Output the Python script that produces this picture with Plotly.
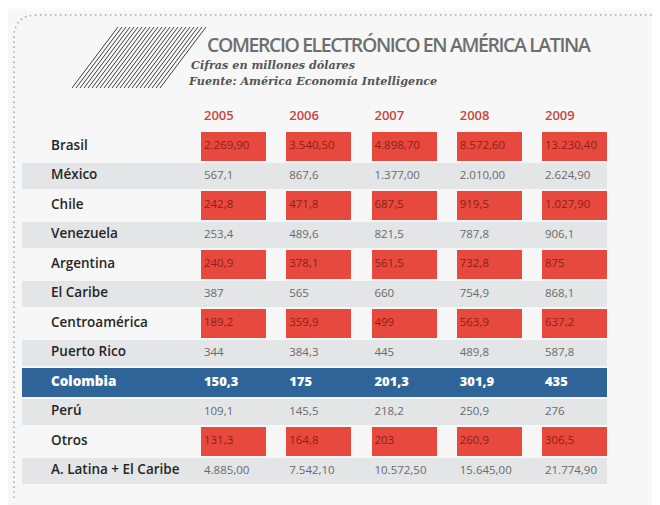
import plotly.graph_objects as go

# ---------------- data ----------------
rows = ["Brasil", "México", "Chile", "Venezuela", "Argentina", "El Caribe",
        "Centroamérica", "Puerto Rico", "Colombia", "Perú", "Otros",
        "A. Latina + El Caribe"]
years = ["2005", "2006", "2007", "2008", "2009"]

v2005 = ["2.269,90", "567,1", "242,8", "253,4", "240,9", "387", "189,2", "344",
         "150,3", "109,1", "131,3", "4.885,00"]
v2006 = ["3.540,50", "867,6", "471,8", "489,6", "378,1", "565", "359,9", "384,3",
         "175", "145,5", "164,8", "7.542,10"]
v2007 = ["4.898,70", "1.377,00", "687,5", "821,5", "561,5", "660", "499", "445",
         "201,3", "218,2", "203", "10.572,50"]
v2008 = ["8.572,60", "2.010,00", "919,5", "787,8", "732,8", "754,9", "563,9", "489,8",
         "301,9", "250,9", "260,9", "15.645,00"]
v2009 = ["13.230,40", "2.624,90", "1.027,90", "906,1", "875", "868,1", "637,2", "587,8",
         "435", "276", "306,5", "21.774,90"]

# row style: red highlighted cells, gray stripe, blue (Colombia)
row_style = ["red", "gray", "red", "gray", "red", "gray",
             "red", "gray", "blue", "gray", "red", "gray"]

columns = [v2005, v2006, v2007, v2008, v2009]

# ---------------- styles ----------------
RED = "#e8493e"
RED_TXT = "#8f1d17"
GRAY = "#e4e5e7"
BLUE = "#2f6498"
VAL_TXT = "#6a6a6a"
LBL_TXT = "#262626"
YEAR_TXT = "#c8463c"
BG = "#f7f7f7"

WIN_W, WIN_H = 660, 505
OFF = 8                      # default page margin of the html body
W, H = WIN_W - OFF, WIN_H - OFF

# table geometry (screen pixels of the window)
COL0_PX, COL_PITCH = 233.5, 85.25
ROW0_PX, ROW_PITCH = 146.5, 29.5
CELL_W = 65 / COL_PITCH

def xu(px):   # screen px -> x data units
    return (px - COL0_PX) / COL_PITCH

def yu(px):   # screen px -> y data units (row index)
    return (px - ROW0_PX) / ROW_PITCH

X_RANGE = [xu(OFF), xu(WIN_W)]
Y_RANGE = [yu(WIN_H), yu(OFF)]
STRIPE_START, STRIPE_END = xu(22), xu(607)
LABEL_X = xu(51)
TXT_PAD = 0.035

def pp(x, y):  # screen px -> paper coords
    return (x - OFF) / W, 1 - (y - OFF) / H

fig = go.Figure()

# stripes (gray rows and Colombia)
for r, st in enumerate(row_style):
    if st in ("gray", "blue"):
        fig.add_trace(go.Bar(
            orientation="h", y=[r], x=[STRIPE_END - STRIPE_START], base=[STRIPE_START],
            width=0.9 if st == "gray" else 1.0,
            marker=dict(color=GRAY if st == "gray" else BLUE, line=dict(width=0)),
            hoverinfo="skip", showlegend=False))

# red cells
for c, col in enumerate(columns):
    rr = [r for r, st in enumerate(row_style) if st == "red"]
    fig.add_trace(go.Bar(
        orientation="h", y=rr, x=[CELL_W] * len(rr), base=[c - CELL_W / 2] * len(rr),
        width=1.0, marker=dict(color=RED, line=dict(width=0)),
        hoverinfo="skip", showlegend=False))

# values
for c, col in enumerate(columns):
    for kind, color, size, weight in (("gray", VAL_TXT, 11.5, 400),
                                      ("red", RED_TXT, 11.5, 400),
                                      ("blue", "#ffffff", 13, 800)):
        rr = [r for r, st in enumerate(row_style) if st == kind]
        fig.add_trace(go.Scatter(
            x=[c - CELL_W / 2 + TXT_PAD] * len(rr), y=rr, text=[col[r] for r in rr],
            mode="text", textposition="middle right",
            textfont=dict(family="Open Sans", size=size, color=color, weight=weight),
            hoverinfo="skip", showlegend=False))

# row labels
for kind, color, weight in (("other", LBL_TXT, 600), ("blue", "#ffffff", 800)):
    rr = [r for r, st in enumerate(row_style) if (st == "blue") == (kind == "blue")]
    fig.add_trace(go.Scatter(
        x=[LABEL_X] * len(rr), y=rr, text=[rows[r] for r in rr],
        mode="text", textposition="middle right",
        textfont=dict(family="Open Sans", size=13.5, color=color, weight=weight),
        hoverinfo="skip", showlegend=False))

# year headers
fig.add_trace(go.Scatter(
    x=[c - CELL_W / 2 + TXT_PAD for c in range(len(years))], y=[yu(117)] * len(years),
    text=years, mode="text", textposition="middle right",
    textfont=dict(family="Open Sans", size=13, color=YEAR_TXT, weight=600),
    hoverinfo="skip", showlegend=False))

shapes = []
# light top strip
x0, y0 = pp(OFF, OFF)
x1, y1 = pp(WIN_W, 11)
shapes.append(dict(type="rect", xref="paper", yref="paper", x0=x0, x1=x1,
                   y0=y1, y1=y0, fillcolor="#fbfbfb", line=dict(width=0), layer="below"))

def ps(x, y):
    a, b = pp(x, y)
    return f"{a:.4f},{b:.4f}"

shapes.append(dict(type="path", xref="paper", yref="paper",
                   path=f"M {ps(14, 498)} L {ps(14, 38)} Q {ps(14, 15)} {ps(37, 15)} L {ps(660, 15)}",
                   line=dict(color="#ababab", width=1.6, dash="1.5px,3.5px")))
# hatch lines
for k in range(23):
    xa, ya = pp(72 + 4.0 * k, 88)
    xb, yb = pp(118 + 4.0 * k, 27)
    shapes.append(dict(type="line", xref="paper", yref="paper",
                       x0=xa, y0=ya, x1=xb, y1=yb,
                       line=dict(color="#3e3e3e", width=1.0)))

tx, ty = pp(205, 44)
s1x, s1y = pp(189, 65)
s2x, s2y = pp(186, 81)
annotations = [
    dict(text="<span style='letter-spacing:-1.4px'>COMERCIO ELECTRÓNICO EN AMÉRICA LATINA</span>",
         x=tx, y=ty,
         xref="paper", yref="paper", xanchor="left", yanchor="middle", showarrow=False,
         font=dict(family="Open Sans", size=19.5, color="#6e6e6e", weight=600)),
    dict(text="<b><i>Cifras en millones dólares</i></b>", x=s1x, y=s1y,
         xref="paper", yref="paper", xanchor="left", yanchor="middle", showarrow=False,
         font=dict(family="DejaVu Serif, serif", size=11.2, color="#555555")),
    dict(text="<b><i>Fuente: América Economía Intelligence</i></b>", x=s2x, y=s2y,
         xref="paper", yref="paper", xanchor="left", yanchor="middle", showarrow=False,
         font=dict(family="DejaVu Serif, serif", size=11.2, color="#555555")),
]

fig.update_layout(
    width=W, height=H, margin=dict(l=0, r=0, t=0, b=0),
    paper_bgcolor=BG, plot_bgcolor="rgba(0,0,0,0)",
    barmode="overlay", bargap=0,
    xaxis=dict(range=X_RANGE, visible=False, fixedrange=True),
    yaxis=dict(range=Y_RANGE, visible=False, fixedrange=True),
    shapes=shapes, annotations=annotations, showlegend=False,
)

fig.write_html("out.html")
